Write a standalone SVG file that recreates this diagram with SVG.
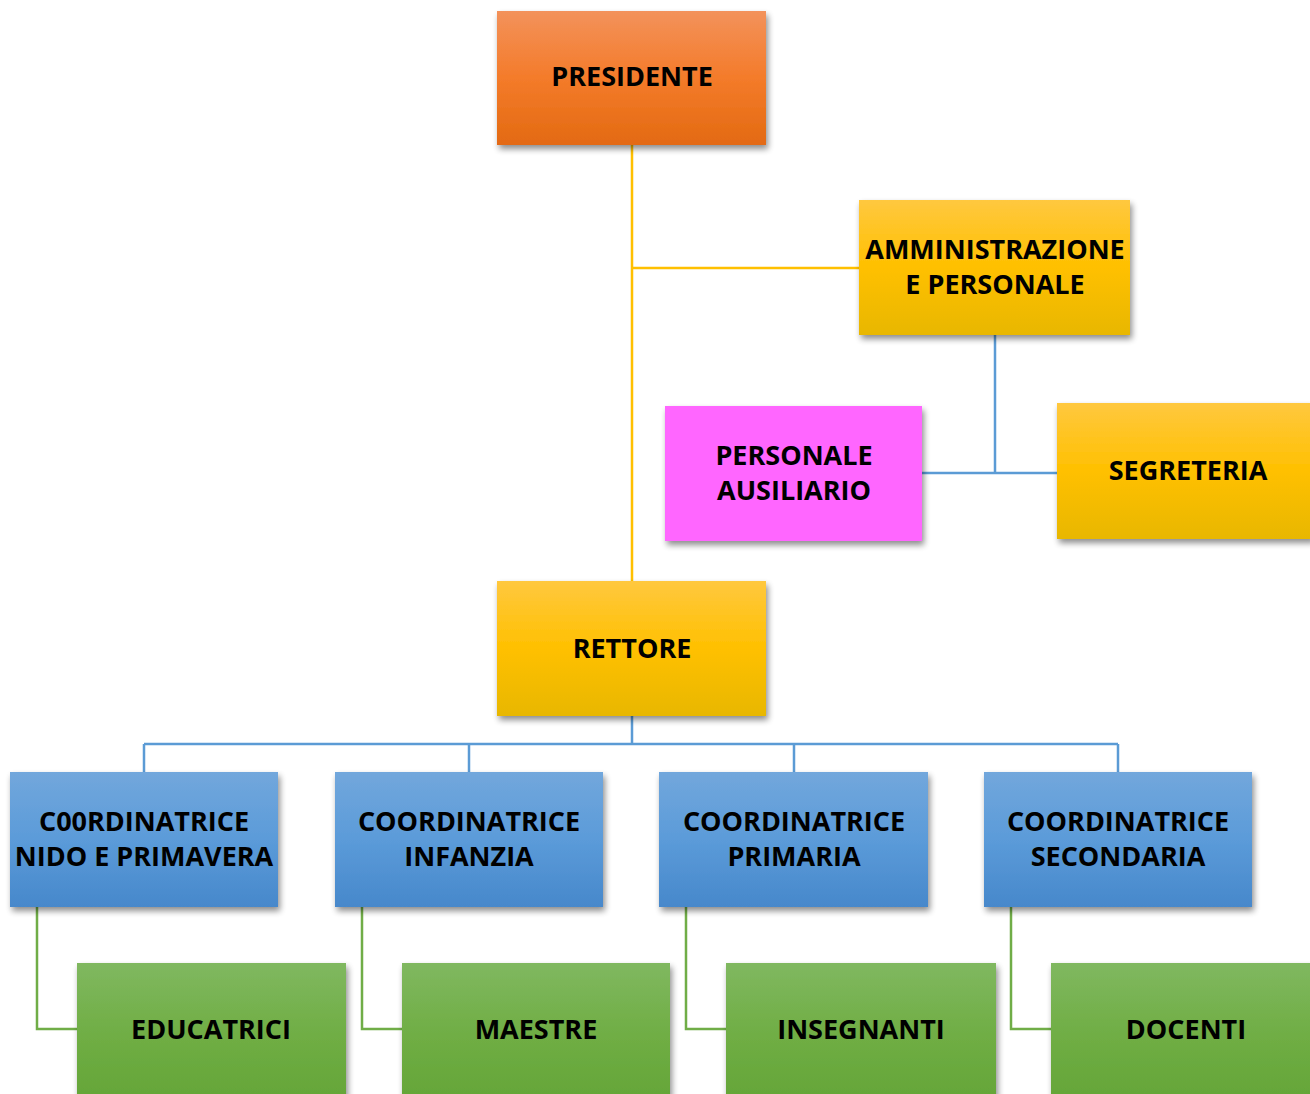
<svg xmlns="http://www.w3.org/2000/svg" width="1310" height="1094" viewBox="0 0 1310 1094">
<defs>
<linearGradient id="gOrange" x1="0" y1="0" x2="0" y2="1">
<stop offset="0" stop-color="#f3925b"/><stop offset="0.5" stop-color="#f47b2a"/><stop offset="1" stop-color="#e36a12"/>
</linearGradient>
<linearGradient id="gYellow" x1="0" y1="0" x2="0" y2="1">
<stop offset="0" stop-color="#ffc83f"/><stop offset="0.5" stop-color="#ffc000"/><stop offset="1" stop-color="#e8b700"/>
</linearGradient>
<linearGradient id="gBlue" x1="0" y1="0" x2="0" y2="1">
<stop offset="0" stop-color="#72a7dc"/><stop offset="0.5" stop-color="#5b9bd9"/><stop offset="1" stop-color="#4788cb"/>
</linearGradient>
<linearGradient id="gGreen" x1="0" y1="0" x2="0" y2="1">
<stop offset="0" stop-color="#80b860"/><stop offset="0.5" stop-color="#70ae45"/><stop offset="1" stop-color="#64a537"/>
</linearGradient>
<filter id="sh" x="-10%" y="-10%" width="125%" height="130%">
<feGaussianBlur in="SourceAlpha" stdDeviation="3"/>
<feOffset dx="2" dy="4" result="b"/>
<feComponentTransfer><feFuncA type="linear" slope="0.45"/></feComponentTransfer>
<feMerge><feMergeNode/><feMergeNode in="SourceGraphic"/></feMerge>
</filter>
</defs>
<style>
text{font-family:"Open Sans","Liberation Sans",sans-serif;font-weight:bold;font-size:27px;fill:#000;text-anchor:middle;}
.box{filter:url(#sh);}
.y{stroke:#ffc000;stroke-width:2.5;fill:none;}
.b{stroke:#5b9bd5;stroke-width:2.5;fill:none;}
.g{stroke:#70ad47;stroke-width:2.5;fill:none;}
</style>
<rect width="1310" height="1094" fill="#ffffff"/>
<g id="connectors">
<path class="y" d="M632,145 V581 M632,268 H859"/>
<path class="b" d="M995,335 V473 M922,473 H1057"/>
<path class="b" d="M632,716 V744 M144,744 H1118 M144,744 V772 M469,744 V772 M794,744 V772 M1118,744 V772"/>
<path class="g" d="M37,907 V1029 H77 M362,907 V1029 H402 M686,907 V1029 H726 M1011,907 V1029 H1051"/>
</g>
<g id="presidente"><rect class="box" x="497" y="11" width="269" height="134" fill="url(#gOrange)"/><text x="632" y="86">PRESIDENTE</text></g>
<g id="amministrazione"><rect class="box" x="859" y="200" width="271" height="135" fill="url(#gYellow)"/><text x="995" y="259">AMMINISTRAZIONE</text><text x="995" y="294">E PERSONALE</text></g>
<g id="personale"><rect class="box" x="665" y="406" width="257" height="135" fill="#ff66ff"/><text x="794" y="465">PERSONALE</text><text x="794" y="500">AUSILIARIO</text></g>
<g id="segreteria"><rect class="box" x="1057" y="403" width="256" height="136" fill="url(#gYellow)"/><text x="1188" y="480">SEGRETERIA</text></g>
<g id="rettore"><rect class="box" x="497" y="581" width="269" height="135" fill="url(#gYellow)"/><text x="632" y="658">RETTORE</text></g>
<g id="coord-nido"><rect class="box" x="10" y="772" width="268" height="135" fill="url(#gBlue)"/><text x="144" y="831">C00RDINATRICE</text><text x="144" y="866">NIDO E PRIMAVERA</text></g>
<g id="coord-infanzia"><rect class="box" x="335" y="772" width="268" height="135" fill="url(#gBlue)"/><text x="469" y="831">COORDINATRICE</text><text x="469" y="866">INFANZIA</text></g>
<g id="coord-primaria"><rect class="box" x="659" y="772" width="269" height="135" fill="url(#gBlue)"/><text x="794" y="831">COORDINATRICE</text><text x="794" y="866">PRIMARIA</text></g>
<g id="coord-secondaria"><rect class="box" x="984" y="772" width="268" height="135" fill="url(#gBlue)"/><text x="1118" y="831">COORDINATRICE</text><text x="1118" y="866">SECONDARIA</text></g>
<g id="educatrici"><rect class="box" x="77" y="963" width="269" height="140" fill="url(#gGreen)"/><text x="211" y="1039">EDUCATRICI</text></g>
<g id="maestre"><rect class="box" x="402" y="963" width="268" height="140" fill="url(#gGreen)"/><text x="536" y="1039">MAESTRE</text></g>
<g id="insegnanti"><rect class="box" x="726" y="963" width="270" height="140" fill="url(#gGreen)"/><text x="861" y="1039">INSEGNANTI</text></g>
<g id="docenti"><rect class="box" x="1051" y="963" width="262" height="140" fill="url(#gGreen)"/><text x="1186" y="1039">DOCENTI</text></g>
</svg>
